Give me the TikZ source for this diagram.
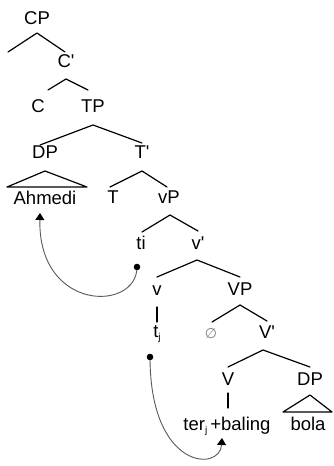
\documentclass[tikz,border=0pt]{standalone}
\usepackage{fontspec}
\setmainfont{Liberation Sans}
\newfontfamily\symfont{DejaVu Sans}
\usetikzlibrary{arrows.meta}
\newcommand{\subj}{\raisebox{-3pt}{\fontsize{10}{10}\selectfont j}}
\newcommand{\pr}{\textquotesingle}
\begin{document}
\begin{tikzpicture}[x=1pt,y=-1pt,
  lbl/.style={font=\fontsize{18.5}{21}\selectfont, inner sep=0pt, anchor=base},
  br/.style={line width=1.2pt, line cap=round, line join=round},
  mv/.style={draw=black!65, line width=0.9pt},
  tip/.style={-{Triangle[width=9pt,length=7pt,color=black,fill=black]}}]
\useasboundingbox[fill=white] (0,0) rectangle (333,466);
% labels
\node[lbl] (CP) at (37,24) {CP};
\node[lbl] (Cbar) at (66,67) {C\pr};
\node[lbl] (C) at (38,112) {C};
\node[lbl] (TP) at (93,112) {TP};
\node[lbl] (DPa) at (45,158) {DP};
\node[lbl] (Tbar) at (142,158) {T\pr};
\node[lbl] (Ahmedi) at (45,204) {Ahmedi};
\node[lbl] (T) at (113,203) {T};
\node[lbl] (vP) at (169,203) {vP};
\node[lbl] (ti) at (141,249) {ti};
\node[lbl] (vbar) at (198,249) {v\pr};
\node[lbl] (v) at (157,295) {v};
\node[lbl] (VP) at (240,295) {VP};
\node[lbl] (tj) at (157,337) {t\subj};
\node[lbl, text=black!50, font=\symfont\fontsize{14}{16}\selectfont] (null) at (211,338) {∅};
\node[lbl] (Vbar) at (267,338) {V\pr};
\node[lbl] (V) at (228,385) {V};
\node[lbl] (DPb) at (310,385) {DP};
\node[lbl] (terbaling) at (227,430) {ter\subj\,+baling};
\node[lbl] (bola) at (308,430) {bola};
% branch coordinates
\coordinate (cpA) at (37,33);   \coordinate (cpL) at (8,52);   \coordinate (cpR) at (65,52);
\coordinate (cbA) at (66,79);   \coordinate (cbL) at (48,90);  \coordinate (cbR) at (88,90);
\coordinate (tpA) at (93,125);  \coordinate (tpL) at (40,145); \coordinate (tpR) at (142,143);
\coordinate (tbA) at (142,171); \coordinate (tbL) at (110,187);\coordinate (tbR) at (167,187);
\coordinate (dpA) at (45,171);  \coordinate (dpL) at (7,187);  \coordinate (dpR) at (87,187);
\coordinate (vpA) at (170,215); \coordinate (vpL) at (142,232);\coordinate (vpR) at (198,231);
\coordinate (vbA) at (197,260); \coordinate (vbL) at (157,277);\coordinate (vbR) at (240,277);
\coordinate (vT) at (157,307);  \coordinate (vB) at (157,322);
\coordinate (VPA) at (240,305); \coordinate (VPL) at (212,322);\coordinate (VPR) at (267,321);
\coordinate (VbA) at (263,350); \coordinate (VbL) at (228,367);\coordinate (VbR) at (310,367);
\coordinate (VT) at (228,393);  \coordinate (VB) at (228,408);
\coordinate (dqA) at (310,395); \coordinate (dqL) at (283,412);\coordinate (dqR) at (332,412);
% branches
\draw[br] (cpL) -- (cpA) -- (cpR);
\draw[br] (cbL) -- (cbA) -- (cbR);
\draw[br] (tpL) -- (tpA) -- (tpR);
\draw[br] (tbL) -- (tbA) -- (tbR);
\draw[br] (dpL) -- (dpA) -- (dpR) -- cycle;
\draw[br] (vpL) -- (vpA) -- (vpR);
\draw[br] (vbL) -- (vbA) -- (vbR);
\draw[br] (vT) -- (vB);
\draw[br] (VPL) -- (VPA) -- (VPR);
\draw[br] (VbL) -- (VbA) -- (VbR);
\draw[br] (VT) -- (VB);
\draw[br] (dqL) -- (dqA) -- (dqR) -- cycle;
% movement
\coordinate (m1) at (137,267); \coordinate (a1) at (40,213);
\coordinate (m2) at (150,357); \coordinate (a2) at (222,438);
\draw[mv,tip] (m1) .. controls (137,312) and (38,312) .. (a1);
\draw[mv,tip] (m2) .. controls (150,470) and (220,472) .. (a2);
\fill (m1) circle (3.3);
\fill (m2) circle (3.3);
\end{tikzpicture}
\end{document}
